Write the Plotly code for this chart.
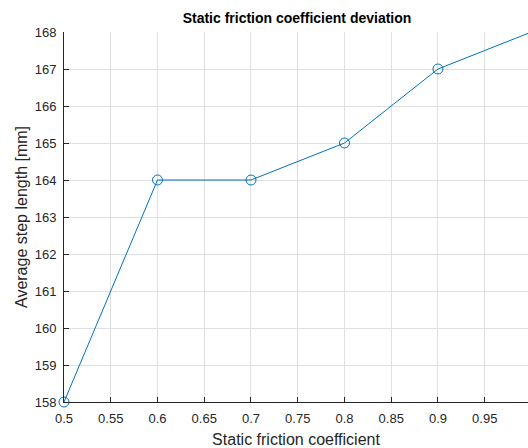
import plotly.graph_objects as go

# Static friction coefficient sweep and resulting mean step length
friction = [0.5, 0.6, 0.7, 0.8, 0.9, 1.0]
step_length = [158, 164, 164, 165, 167, 168]

x_ticks = [0.5, 0.55, 0.6, 0.65, 0.7, 0.75, 0.8, 0.85, 0.9, 0.95]
x_tick_labels = ["0.5", "0.55", "0.6", "0.65", "0.7", "0.75", "0.8", "0.85", "0.9", "0.95"]
y_ticks = [158, 159, 160, 161, 162, 163, 164, 165, 166, 167, 168]

line_color = "#0072BD"
axis_color = "#262626"
grid_color = "#DFDFDF"
font_family = "Liberation Sans, Arial, sans-serif"

fig = go.Figure(
    go.Scatter(
        x=friction,
        y=step_length,
        mode="lines+markers",
        line=dict(color=line_color, width=1),
        marker=dict(symbol="circle-open", size=10, color=line_color, line=dict(width=1, color=line_color)),
        cliponaxis=False,
        showlegend=False,
    )
)

fig.update_layout(
    width=528,
    height=448,
    margin=dict(l=64, r=0, t=32, b=46),
    paper_bgcolor="white",
    plot_bgcolor="white",
    font=dict(family=font_family, color=axis_color, size=13),
    title=dict(
        text="<b>Static friction coefficient deviation</b>",
        x=0.5625,
        xanchor="center",
        y=1 - 18 / 448,
        yanchor="middle",
        font=dict(size=14, color="black", family=font_family),
    ),
)

fig.update_xaxes(
    range=[0.5, 0.9963],
    tickvals=x_ticks,
    ticktext=x_tick_labels,
    ticks="inside",
    ticklen=5,
    tickcolor=axis_color,
    ticklabelstandoff=4,
    showline=True,
    linecolor=axis_color,
    linewidth=1,
    showgrid=True,
    gridcolor=grid_color,
    gridwidth=1,
    zeroline=False,
    tickfont=dict(size=13, color=axis_color),
    title=dict(text="Static friction coefficient", font=dict(size=16, color=axis_color), standoff=9),
)

fig.update_yaxes(
    range=[158, 168],
    tickvals=y_ticks,
    ticks="inside",
    ticklen=5,
    tickcolor=axis_color,
    ticklabelstandoff=4,
    showline=True,
    linecolor=axis_color,
    linewidth=1,
    showgrid=True,
    gridcolor=grid_color,
    gridwidth=1,
    zeroline=False,
    tickfont=dict(size=13, color=axis_color),
    title=dict(text="Average step length [mm]", font=dict(size=16, color=axis_color), standoff=3),
)

fig.write_html("out.html")
